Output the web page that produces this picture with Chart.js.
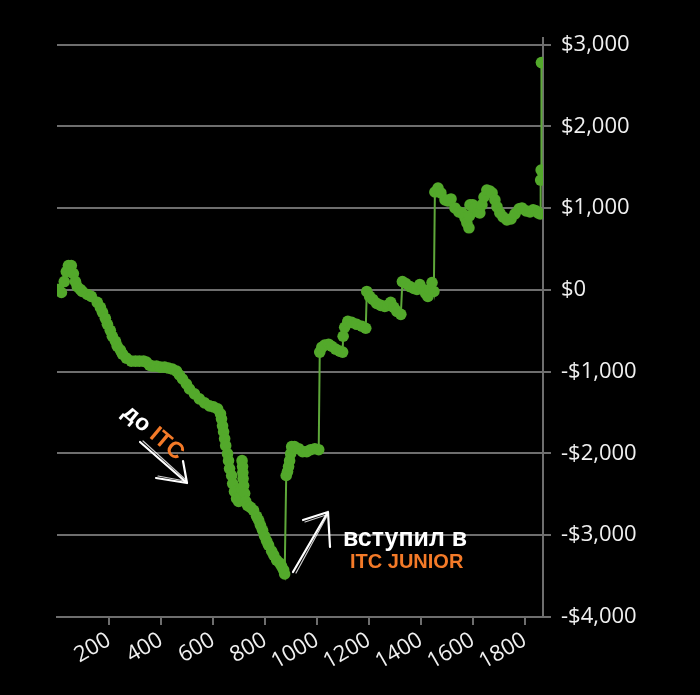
<!DOCTYPE html>
<html>
<head>
<meta charset="utf-8">
<script src="https://cdn.jsdelivr.net/npm/chart.js@4.4.0/dist/chart.umd.min.js"></script>
<style>
html,body{margin:0;padding:0;background:#000;}
#wrap{position:relative;width:700px;height:695px;background:#000;overflow:hidden;}
#c{position:absolute;left:0;top:0;}
svg{position:absolute;left:0;top:0;pointer-events:none;}
.note{position:absolute;font-family:"Liberation Sans",Arial,sans-serif;font-weight:bold;white-space:nowrap;line-height:1;}
.or{color:#f47a28;}
</style>
</head>
<body>
<div id="wrap">
<canvas id="c" width="700" height="695"></canvas>
<svg width="700" height="695" viewBox="0 0 700 695">
  <g fill="none" stroke="#fff" stroke-linecap="round" stroke-linejoin="round">
    <path d="M140,442 L187,483 M156,478 L187,483 L183,461" stroke-width="2.2"/>
    <path d="M143,441 L186,480 M158,476 L185,481" stroke-width="1.2" opacity="0.8"/>
    <path d="M293,572 L328,512 M303,520 L328,512 L330,547" stroke-width="2.2"/>
    <path d="M296,573 L327,516 M305,522 L326,515" stroke-width="1.2" opacity="0.8"/>
  </g>
</svg>
<div class="note" id="n1" style="left:154px;top:432px;font-size:23px;color:#fff;transform:translate(-50%,-50%) rotate(40deg);">до <span class="or">ITC</span></div>
<div class="note" style="left:343px;top:525px;font-size:25px;color:#fff;">вступил в</div>
<div class="note or" style="left:350px;top:551px;font-size:20px;">ITC JUNIOR</div>
</div>
<script>
const tradeNo = [5,17,28,36,44,55,63,71,78,90,
97,117,132,155,167,175,186,194,205,213,
225,232,244,252,267,286,302,317,333,344,
356,367,383,398,414,429,444,460,471,483,
498,510,529,548,568,587,602,618,629,633,
637,641,645,649,656,660,664,672,676,683,
691,699,706,710,712,714,715,716,718,722,
726,733,745,756,768,776,783,791,799,807,
814,826,834,845,857,864,872,876,882,887,
891,895,899,903,914,930,945,961,976,992,
1007,1011,1019,1030,1045,1057,1072,1088,1099,1101,
1107,1119,1134,1153,1173,1188,1192,1203,1215,1230,
1246,1261,1273,1284,1296,1308,1323,1329,1342,1358,
1373,1385,1396,1408,1419,1427,1435,1443,1450,1454,
1466,1477,1493,1504,1516,1531,1546,1558,1570,1577,
1585,1587,1589,1600,1608,1620,1627,1635,1643,1654,
1666,1674,1685,1693,1704,1716,1731,1747,1762,1778,
1789,1805,1820,1832,1843,1851,1859,1861,1863,1864];

const pnl = [5,-32,102,224,297,297,200,102,41,5,
-19,-56,-80,-153,-214,-275,-348,-421,-494,-567,
-628,-689,-737,-786,-835,-871,-871,-871,-871,-883,
-920,-932,-932,-944,-944,-956,-968,-993,-1041,-1090,
-1151,-1212,-1272,-1333,-1382,-1418,-1431,-1455,-1516,-1577,
-1662,-1735,-1820,-1905,-2003,-2088,-2185,-2270,-2368,-2465,
-2550,-2587,-2526,-2429,-2088,-2161,-2234,-2307,-2392,-2489,
-2587,-2635,-2660,-2696,-2769,-2818,-2879,-2939,-3012,-3073,
-3122,-3195,-3243,-3304,-3341,-3377,-3426,-3474,-2270,-2222,
-2161,-2088,-2003,-1917,-1917,-1942,-1978,-1978,-1954,-1942,
-1954,-761,-701,-676,-664,-689,-725,-749,-761,-567,
-457,-384,-397,-421,-445,-469,-19,-80,-117,-165,
-190,-202,-190,-153,-214,-263,-299,102,78,41,
17,5,66,5,-44,-80,5,90,-19,1197,
1246,1185,1100,1088,1112,1002,954,941,881,820,
759,905,1039,1039,1002,954,941,1039,1136,1221,
1209,1185,1100,1015,941,893,856,868,929,990,
1002,966,954,978,966,941,929,1343,1465,2779];

const xTickValues = [200,400,600,800,1000,1200,1400,1600,1800];
const yTickValues = [-4000,-3000,-2000,-1000,0,1000,2000,3000];

const GRID = '#6e6e6e';
const GREEN = '#53a92b';

const points = tradeNo.map((x, i) => ({x: x, y: pnl[i]}));

new Chart(document.getElementById('c').getContext('2d'), {
  type: 'line',
  data: {
    datasets: [{
      data: points,
      borderColor: '#5ea83a',
      borderWidth: 2,
      pointRadius: 5.8,
      pointBackgroundColor: GREEN,
      pointBorderColor: GREEN,
      pointBorderWidth: 0,
      tension: 0,
      fill: false
    }]
  },
  options: {
    responsive: false,
    animation: false,
    devicePixelRatio: 1,
    layout: {padding: {left: 57, top: 38, right: 0, bottom: 0}},
    plugins: {legend: {display: false}, tooltip: {enabled: false}},
    scales: {
      x: {
        type: 'linear',
        min: 0,
        max: 1870,
        afterBuildTicks: s => { s.ticks = xTickValues.map(v => ({value: v})); },
        afterFit: s => { s.height = 695 - 617; },
        ticks: {
          color: '#f0f0f0',
          font: {family: 'Open Sans', size: 22},
          minRotation: 30,
          maxRotation: 30,
          autoSkip: false,
          padding: 2,
          callback: v => String(v)
        },
        grid: {drawOnChartArea: false, drawTicks: true, tickLength: 8, color: GRID, lineWidth: 2},
        border: {display: true, color: GRID, width: 2}
      },
      y: {
        position: 'right',
        min: -4000,
        max: 3080,
        afterBuildTicks: s => { s.ticks = yTickValues.map(v => ({value: v})); },
        afterFit: s => { s.width = 700 - 543; },
        ticks: {
          color: '#f0f0f0',
          font: {family: 'Open Sans', size: 22},
          padding: 10,
          callback: v => (v < 0 ? '-' : '') + '$' + Math.abs(v).toLocaleString('en-US')
        },
        grid: {color: GRID, lineWidth: 2, tickLength: 8},
        border: {color: GRID, width: 2}
      }
    }
  }
});
</script>
</body>
</html>
